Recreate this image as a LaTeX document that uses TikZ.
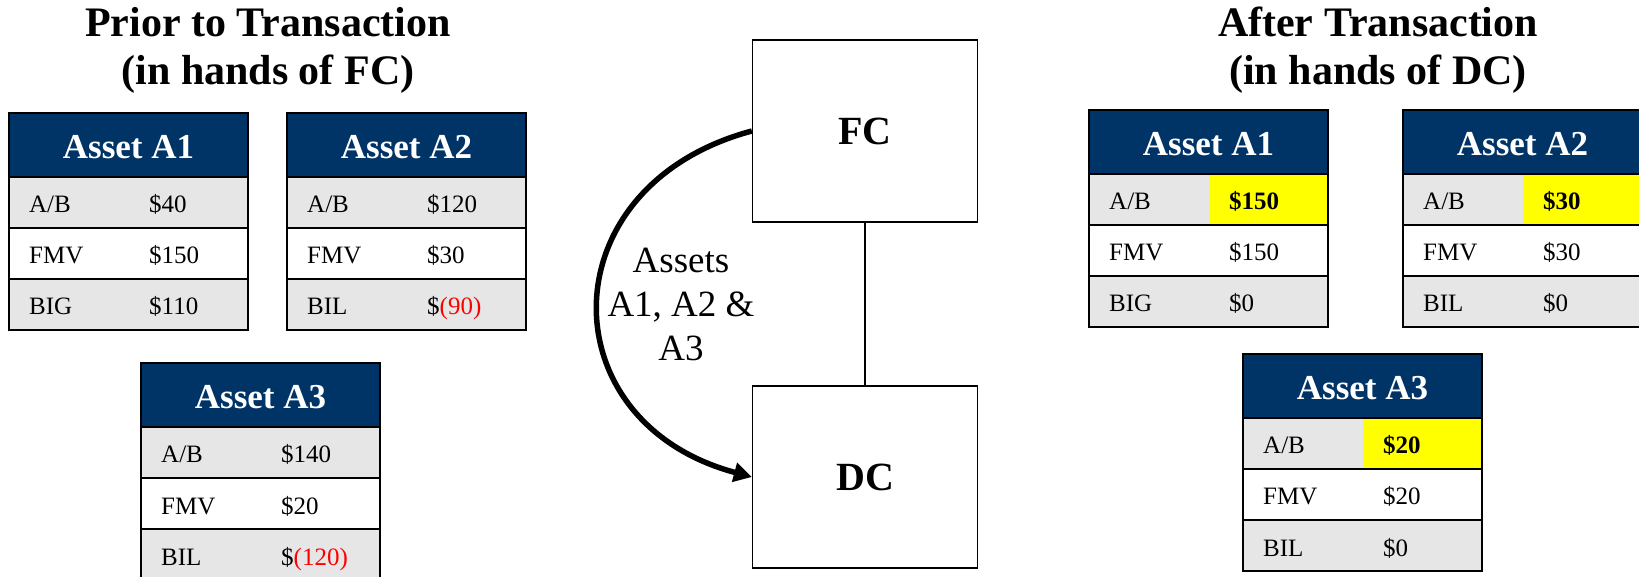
\documentclass[tikz,border=0pt]{standalone}
\usepackage{fontspec}
\setmainfont{Liberation Serif}
\usetikzlibrary{arrows.meta}

\definecolor{hdrblue}{RGB}{0,51,102}
\definecolor{rowgray}{RGB}{230,230,230}
\definecolor{hiyellow}{RGB}{255,255,0}
\definecolor{negred}{RGB}{255,0,0}

\tikzset{
  tblrule/.style={line width=1.6pt},
  hdrtext/.style={anchor=base,inner sep=0pt,text=white,font=\bfseries\fontsize{35}{42}\selectfont},
  celltext/.style={anchor=base west,inner sep=0pt,font=\fontsize{25}{30}\selectfont},
  headline/.style={anchor=base,inner sep=0pt,font=\bfseries\fontsize{42}{48}\selectfont},
  entity/.style={draw,line width=1.3pt,minimum width=225pt,minimum height=182pt,font=\bfseries\fontsize{40}{48}\selectfont},
  xfer/.style={line width=5.5pt,-{Triangle[length=18pt,width=19pt]}}
}

% #1 top left corner, #2 name, #3 title, #4 A/B, #5 FMV, #6 BIG/BIL, #7 its value, #8 fill of the A/B value
\newcommand{\assettable}[8]{%
  \begin{scope}[shift={#1}]
    % Header and shaded rows
    \fill[hdrblue] (0,0) rectangle (239,-64);
    \fill[rowgray] (0,-64) rectangle (239,-115);
    \fill[#8] (120,-64) rectangle (239,-115);
    \fill[rowgray] (0,-166) rectangle (239,-217);
    % Rules
    \draw[tblrule] (0,0) rectangle (239,-217);
    \draw[tblrule] (0,-64) -- (239,-64) (0,-115) -- (239,-115) (0,-166) -- (239,-166);
    % Texts
    \node[hdrtext] (#2-title) at (119.5,-46) {#3};
    \node[celltext] (#2-ab) at (20,-100) {A/B};
    \node[celltext] (#2-abv) at (140,-100) {#4};
    \node[celltext] (#2-fmv) at (20,-151) {FMV};
    \node[celltext] (#2-fmvv) at (140,-151) {#5};
    \node[celltext] (#2-bi) at (20,-202) {#6};
    \node[celltext] (#2-biv) at (140,-202) {#7};
  \end{scope}}

\begin{document}
\begin{tikzpicture}[x=1pt,y=1pt]
\useasboundingbox (0,0) rectangle (1639,576);
\clip (0,0) rectangle (1639,576);

% Titles
\node[headline] (prior1) at (268,539) {Prior to Transaction};
\node[headline] (prior2) at (268,491) {(in hands of FC)};
\node[headline] (after1) at (1378,539) {After Transaction};
\node[headline] (after2) at (1378,491) {(in hands of DC)};

% Before the transaction
\assettable{(9,463)}{ba1}{Asset A1}{\$40}{\$150}{BIG}{\$110}{rowgray}
\assettable{(287,463)}{ba2}{Asset A2}{\$120}{\$30}{BIL}{\$\textcolor{negred}{(90)}}{rowgray}
\assettable{(141,213)}{ba3}{Asset A3}{\$140}{\$20}{BIL}{\$\textcolor{negred}{(120)}}{rowgray}

% After the transaction
\assettable{(1089,466)}{aa1}{Asset A1}{\textbf{\$150}}{\$150}{BIG}{\$0}{hiyellow}
\assettable{(1403,466)}{aa2}{Asset A2}{\textbf{\$30}}{\$30}{BIL}{\$0}{hiyellow}
\assettable{(1243,222)}{aa3}{Asset A3}{\textbf{\$20}}{\$20}{BIL}{\$0}{hiyellow}

% Corporations
\node[entity] (fc) at (865,445) {FC};
\node[entity] (dc) at (865,99) {DC};
\draw[line width=1.2pt] (fc) -- (dc);

% Transfer of the assets
\draw[xfer] (fc.west) to[out=195,in=165,looseness=1.57] (dc.west);
\node[align=center,inner sep=0pt,font=\fontsize{37}{44}\selectfont] (moved) at (681,272) {Assets\\A1, A2 \&\\A3};
\end{tikzpicture}
\end{document}
